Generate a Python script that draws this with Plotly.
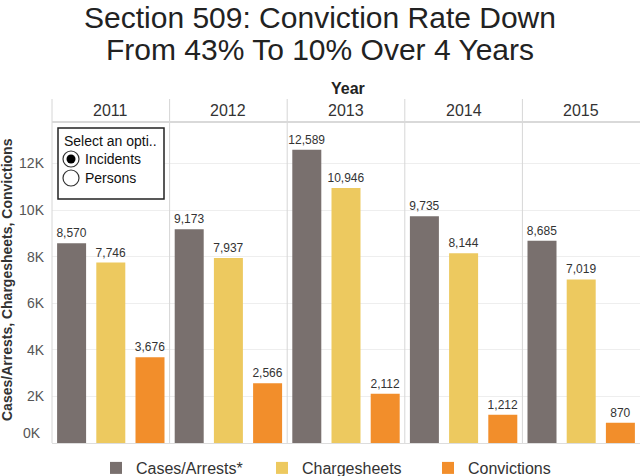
import plotly.graph_objects as go
from plotly.subplots import make_subplots

# ---------------- data ----------------
years = ["2011", "2012", "2013", "2014", "2015"]
series = ["Cases/Arrests*", "Chargesheets", "Convictions"]
cases = [8570, 9173, 12589, 9735, 8685]
chargesheets = [7746, 7937, 10946, 8144, 7019]
convictions = [3676, 2566, 2112, 1212, 870]
tick_vals = [2000, 4000, 6000, 8000, 10000, 12000]
tick_text = ["2K", "4K", "6K", "8K", "10K", "12K"]
colors = ["#79706e", "#edc95f", "#f28e2b"]

FONT = "Arial, Liberation Sans, sans-serif"
W, H = 640, 476
L, R, T, B = 52, 0, 122, 33
PW, PH = W - L - R, H - T - B


def px(x):
    return (x - L) / PW


def py(y):
    return (H - B - y) / PH


fig = make_subplots(rows=1, cols=5, shared_yaxes=True, horizontal_spacing=0)

values = [cases, chargesheets, convictions]
for i, yr in enumerate(years):
    for j, name in enumerate(series):
        v = values[j][i]
        fig.add_trace(
            go.Bar(
                x=[name], y=[v], name=name, legendgroup=name,
                showlegend=(i == 0), marker_color=colors[j],
                marker_line_width=0, width=0.74,
                text=[f"{v:,}"], textposition="outside", constraintext="none",
                textfont=dict(size=12, color="#333333", family=FONT),
                cliponaxis=False, hoverinfo="skip",
            ),
            row=1, col=i + 1,
        )

fig.update_xaxes(type="category", categoryorder="array", categoryarray=series,
                 range=[-0.5, 2.5], showticklabels=False, showgrid=False,
                 zeroline=False, showline=False, ticks="")
fig.update_yaxes(range=[0, 13780], tickvals=tick_vals, ticktext=tick_text,
                 gridcolor="#eeeeee", gridwidth=1, zeroline=True,
                 zerolinecolor="#dddddd", zerolinewidth=1, showline=False,
                 ticks="", ticklabelstandoff=7,
                 tickfont=dict(size=14, color="#555555", family=FONT))

annotations = []
shapes = []


def note(text, x, y, size, color="#333333", xanchor="center", **kw):
    annotations.append(dict(text=text, xref="paper", x=px(x), yref="paper", y=py(y),
                            xanchor=xanchor, yanchor="middle", showarrow=False,
                            font=dict(size=size, color=color, family=FONT), **kw))


# year headers + separators
for k in range(1, 6):
    xd = "x domain" if k == 1 else f"x{k} domain"
    annotations.append(dict(text=years[k - 1], xref=xd, x=0.5, xanchor="center",
                            yref="paper", y=py(110), yanchor="middle", showarrow=False,
                            font=dict(size=16, color="#333333", family=FONT)))
    shapes.append(dict(type="line", xref=xd, x0=0, x1=0, yref="paper",
                       y0=0, y1=py(99), line=dict(color="#d6d6d6", width=1)))

shapes.append(dict(type="line", xref="paper", x0=0, x1=1, yref="paper",
                   y0=py(122), y1=py(122), line=dict(color="#d9d9d9", width=2)))

# title lines
note("Section 509: Conviction Rate Down", 320, 18, 30, color="#222222")
note("From 43% To 10% Over 4 Years", 320, 49, 30, color="#222222")

# 0K label (sits slightly above baseline)
note("0K", 43, 433, 14, color="#555555", xanchor="right")

# Year title
note("<b>Year</b>", 348, 88, 16, color="#222222")

# y-axis title
note("<b>Cases/Arrests, Chargesheets, Convictions</b>", 7, 280, 14, textangle=-90)

# selector box
shapes.append(dict(type="rect", xref="paper", yref="paper", x0=px(58), x1=px(164),
                   y0=py(199), y1=py(128), line=dict(color="#222222", width=1.5),
                   fillcolor="white", layer="above"))
for cy in (159, 178):
    shapes.append(dict(type="circle", xref="paper", yref="paper", x0=px(63), x1=px(79),
                       y0=py(cy + 8), y1=py(cy - 8), line=dict(color="#333333", width=1.2),
                       fillcolor="white", layer="above"))
shapes.append(dict(type="circle", xref="paper", yref="paper", x0=px(66.5), x1=px(75.5),
                   y0=py(163.5), y1=py(154.5), line=dict(color="#000000", width=0),
                   fillcolor="#000000", layer="above"))
note("Select an opti..", 62, 141, 14, color="#111111", xanchor="left")
note("Incidents", 83, 159, 14, color="#111111", xanchor="left")
note("Persons", 83, 178, 14, color="#111111", xanchor="left")

fig.update_layout(
    width=W, height=H,
    margin=dict(l=L, r=R, t=T, b=B, autoexpand=False),
    paper_bgcolor="white", plot_bgcolor="white",
    barmode="overlay",
    legend=dict(orientation="h", x=px(96), xanchor="left", y=py(451), yanchor="top",
                font=dict(size=16, color="#333333", family=FONT),
                entrywidth=121, traceorder="normal", bgcolor="rgba(0,0,0,0)"),
    annotations=annotations, shapes=shapes,
    showlegend=True,
)

fig.write_html("out.html")
